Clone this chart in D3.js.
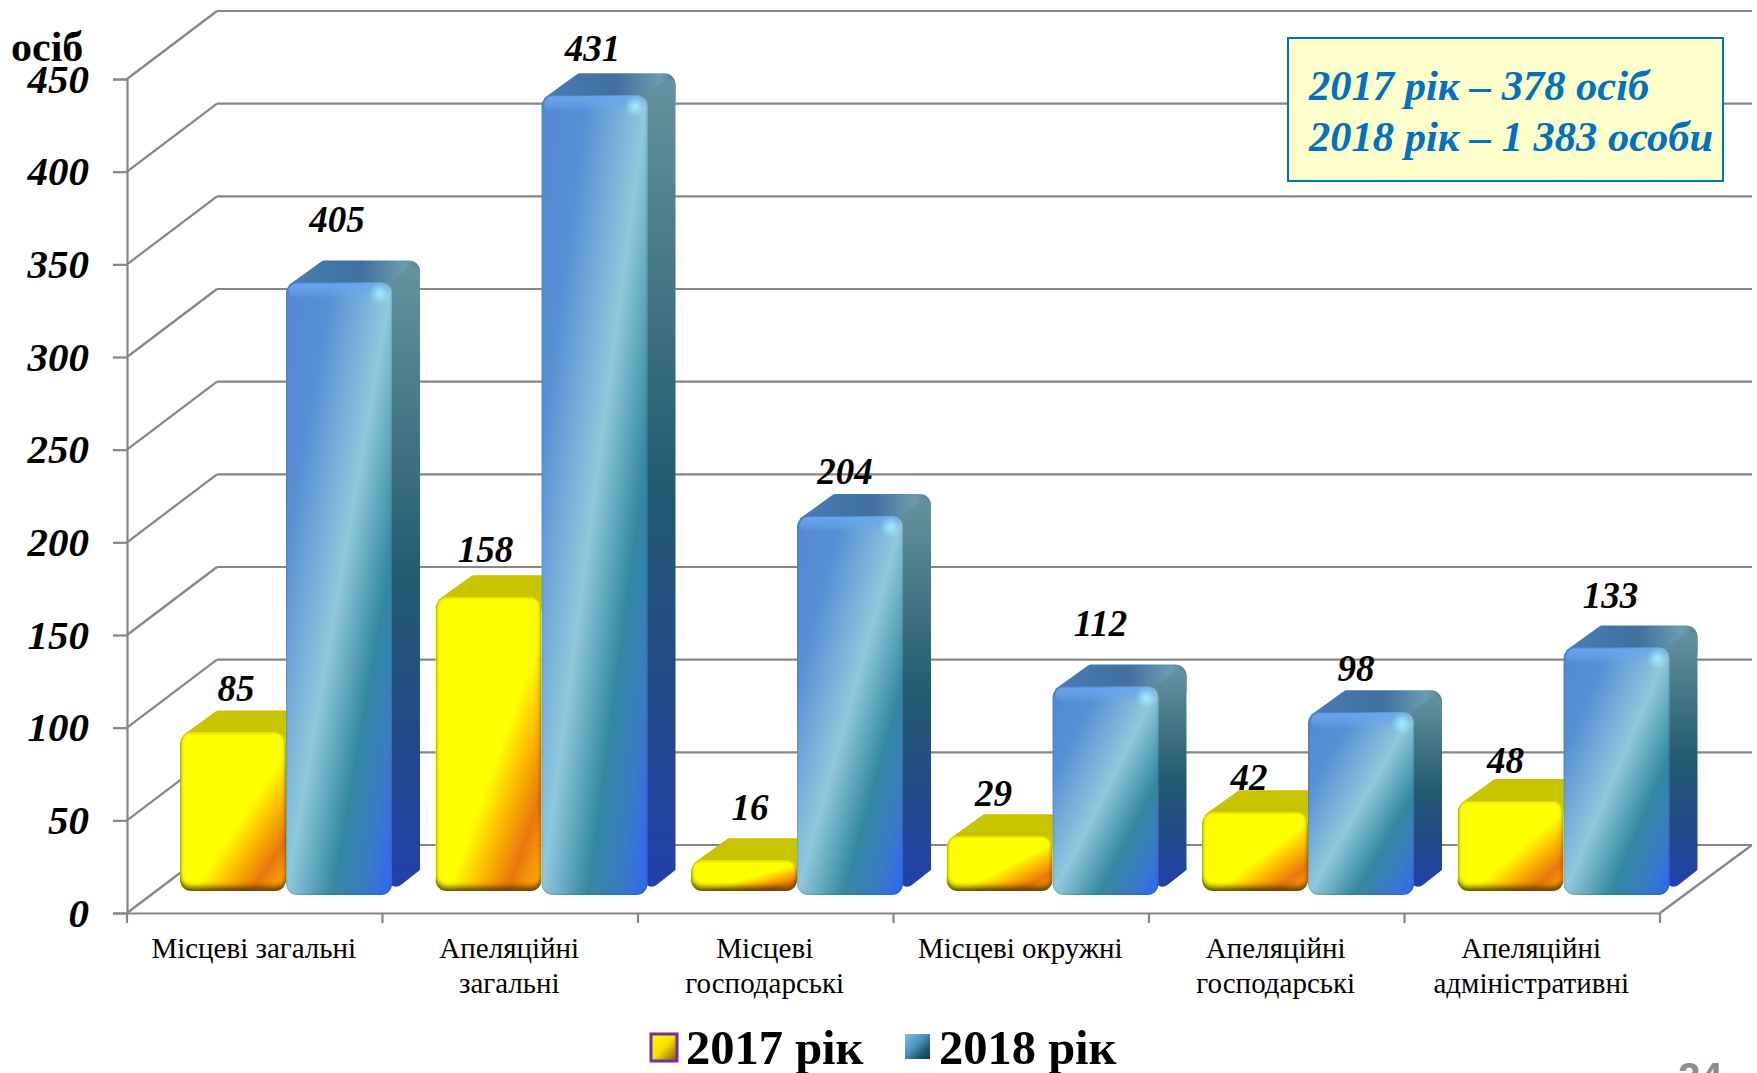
<!DOCTYPE html>
<html><head><meta charset="utf-8">
<script src="https://cdn.jsdelivr.net/npm/d3@7"></script>
<style>html,body{margin:0;padding:0;background:#fff;overflow:hidden}svg{display:block}text{font-family:"Liberation Serif",serif}</style>
</head><body><svg id="c" width="1757" height="1073"></svg>
<script>
const categories = ["Місцеві загальні","Апеляційні загальні","Місцеві господарські","Місцеві окружні","Апеляційні господарські","Апеляційні адміністративні"];
const categoryLines = [["Місцеві загальні"],["Апеляційні","загальні"],["Місцеві","господарські"],["Місцеві окружні"],["Апеляційні","господарські"],["Апеляційні","адміністративні"]];
const seriesNames = ["2017 рік","2018 рік"];
const values2017 = [85,158,16,29,42,48];
const labels2018 = [405,431,204,112,98,133];
// the first 2018 column is drawn shorter than its printed label in the reference
const drawn2018 = [330,431,204,112,98,133];
const yTicks = [0,50,100,150,200,250,300,350,400,450];
const summaryLines = ["2017 рік – 378 осіб","2018 рік – 1 383 особи"];
// per-label placement relative to the column (layout only)
const lift2017 = [9,13,18,8,0,6];
const lift2018 = [28,12,10,28,9,18];
const shift2017 = [3,-3,6,-6,-6,-5];
const shift2018 = [-2,-2,-5,-5,-5,-6];

const svg = d3.select("#c");
const defs = svg.append("defs");
function grad(id,x1,y1,x2,y2,stops){
  const g=defs.append("linearGradient").attr("id",id).attr("x1",x1).attr("y1",y1).attr("x2",x2).attr("y2",y2);
  stops.forEach(s=>g.append("stop").attr("offset",s[0]).attr("stop-color",s[1]).attr("stop-opacity",s[2]===undefined?1:s[2]));
}
grad("yFront",0,0,1,1,[[0,"#ffff00"],[.56,"#ffff00"],[.7,"#fbb800"],[.84,"#ea760c"],[.95,"#fda204"],[1,"#ffb000"]]);
grad("bFront",0,0,1,1,[[0,"#5488d2"],[.22,"#5790d4"],[.5,"#90c8dc"],[.72,"#33889f"],[.86,"#3a7cc4"],[1,"#2f66f4"]]);
grad("bSide",0,0,0,1,[[0,"#65929e"],[.5,"#245a72"],[.75,"#234a86"],[1,"#2240ac"]]);
grad("bTop",0,0,1,0,[[0,"#4a7cb4"],[.55,"#41709f"],[.88,"#6a9cb0"],[1,"#55808f"]]);
grad("ySwatch",0,0,1,1,[[0,"#ffff00"],[.5,"#f5e000"],[.85,"#a87a00"],[1,"#6b5a00"]]);
grad("bSwatch",0,0,1,1,[[0,"#7cc0e8"],[.45,"#4a90b8"],[.75,"#1d5570"],[1,"#163a5a"]]);
grad("bShine",0,0,0,1,[[0,"#6aa6ee",.95],[.6,"#6aa6ee",.55],[1,"#6aa6ee",0]]);
const spot=defs.append("radialGradient").attr("id","bSpot");
spot.append("stop").attr("offset",0).attr("stop-color","#a8f0fa").attr("stop-opacity",.95);
spot.append("stop").attr("offset",1).attr("stop-color","#a8f0fa").attr("stop-opacity",0);

function bevel(id,botCol,botOp,edgeCol,edgeOp,edgeStd){
  const f=defs.append("filter").attr("id",id).attr("x","-10%").attr("y","-10%").attr("width","120%").attr("height","120%");
  const inner=(dx,dy,std,col,op,res)=>{
    f.append("feOffset").attr("in","SourceAlpha").attr("dx",dx).attr("dy",dy).attr("result",res+"o");
    f.append("feGaussianBlur").attr("in",res+"o").attr("stdDeviation",std).attr("result",res+"b");
    f.append("feComposite").attr("in","SourceAlpha").attr("in2",res+"b").attr("operator","arithmetic")
      .attr("k1",0).attr("k2",1).attr("k3",-1).attr("k4",0).attr("result",res+"e");
    f.append("feFlood").attr("flood-color",col).attr("flood-opacity",op).attr("result",res+"f");
    f.append("feComposite").attr("in",res+"f").attr("in2",res+"e").attr("operator","in").attr("result",res);
  };
  inner(0,-5,2.5,botCol,botOp,"d");
  inner(0,0,edgeStd,edgeCol,edgeOp,"e");
  const m=f.append("feMerge");
  ["SourceGraphic","d","e"].forEach(n=>m.append("feMergeNode").attr("in",n));
}
bevel("yBevel","#5a3a00",.95,"#6a6000",.85,1.6);
bevel("bBevel","#2a60a0",0,"#2c4a68",.75,1.1);

const GRID="#868686";
const y = d3.scaleLinear().domain([0,450]).range([913,79]);
const x = d3.scaleBand().domain(categories).range([127,1660]);
const inner = d3.scaleBand().domain(seriesNames).range([53,265]);
const wallDx=90, wallDy=68, barDx=28, barDy=22, blueLift=19, yellowLift=23;

// walls
const wall=svg.append("g").attr("fill","none").attr("stroke",GRID).attr("stroke-width",2.2);
wall.selectAll(".h").data(yTicks).join("line")
  .attr("x1",127+wallDx).attr("x2",1752).attr("y1",d=>y(d)-wallDy).attr("y2",d=>y(d)-wallDy);
wall.selectAll(".d").data(yTicks).join("line")
  .attr("x1",127).attr("x2",127+wallDx).attr("y1",d=>y(d)).attr("y2",d=>y(d)-wallDy);
wall.append("line").attr("x1",1660).attr("y1",y(0)).attr("x2",1752).attr("y2",y(0)-wallDy);

// axes
const axL=svg.append("g").attr("transform","translate(127,0)")
  .call(d3.axisLeft(y).tickValues(yTicks).tickSize(14).tickPadding(24));
axL.select(".domain").attr("stroke",GRID).attr("stroke-width",2.2);
axL.selectAll("line").attr("stroke",GRID).attr("stroke-width",2.2);
axL.selectAll("text").attr("fill","#000").style("font-family",'"Liberation Serif",serif')
  .style("font-size","41px").style("font-weight","bold").style("font-style","italic").attr("dy","0.32em");

const axB=svg.append("g").attr("transform",`translate(0,${y(0)})`)
  .call(d3.axisBottom(x).tickSize(0).tickPadding(0));
axB.select(".domain").attr("stroke",GRID).attr("stroke-width",2.2);
axB.selectAll("text").each(function(d,i){
  const t=d3.select(this).text(null).attr("y",null).attr("dy",null).attr("x",-1).attr("fill","#000")
    .style("font-family",'"Liberation Serif",serif').style("font-size","29px");
  categoryLines[i].forEach((l,j)=>t.append("tspan").attr("x",-1).attr("y",45+j*35).text(l));
});
const boundaries=categories.map(c=>x(c)).concat([x.range()[1]]);
svg.append("g").selectAll("line").data(boundaries).join("line")
  .attr("x1",d=>d).attr("x2",d=>d).attr("y1",y(0)).attr("y2",y(0)+10)
  .attr("stroke",GRID).attr("stroke-width",2.2);

// rounded polygon helper: each vertex is [x, y, radius]
function rpoly(pts){
  const p=d3.path(),n=pts.length;
  const s=[(pts[n-1][0]+pts[0][0])/2,(pts[n-1][1]+pts[0][1])/2];
  p.moveTo(s[0],s[1]);
  pts.forEach((q,i)=>{const nx=pts[(i+1)%n];p.arcTo(q[0],q[1],nx[0],nx[1],q[2]);});
  p.closePath();
  return p.toString();
}
function column(g,cat,name,value,lift,frontFill,topFill,sideFill,bevelId,shiny){
  const x0=x(cat)+inner(name), w=inner.bandwidth(), x1=x0+w, top=y(value)-lift, base=y(0)-lift+1;
  g.append("path").attr("fill",topFill)
    .attr("d",rpoly([[x0+1,top+4,1],[x0+37,top-barDy,6],[x1+barDx,top-barDy,11],[x1+barDx,top+6,1],[x1,top+14,1]]));
  if(sideFill) g.append("path").attr("fill",sideFill)
    .attr("d",rpoly([[x1-4,top+1,1],[x1+barDx-8,top-barDy+5,3],[x1+barDx,top-barDy+8,5],[x1+barDx,base-barDy-3,1],[x1-4,base,8]]));
  g.append("rect").attr("x",x0).attr("y",top).attr("width",w).attr("height",base-top)
    .attr("rx",Math.min(11,(base-top)/2)).attr("fill",frontFill).attr("filter",`url(#${bevelId})`);
  if(shiny){
    g.append("rect").attr("x",x0+3).attr("y",top+1).attr("width",w-6).attr("height",15).attr("rx",8).attr("fill","url(#bShine)");
    g.append("circle").attr("cx",x1-12).attr("cy",top+11).attr("r",11).attr("fill","url(#bSpot)");
  }
}
const bars=svg.append("g");
categories.forEach((c,i)=>{
  const g=bars.append("g");
  column(g,c,seriesNames[0],values2017[i],yellowLift,"url(#yFront)","#c8c400",null,"yBevel",false);
  column(g,c,seriesNames[1],drawn2018[i],blueLift,"url(#bFront)","url(#bTop)","url(#bSide)","bBevel",true);
});

// data labels
const labelStyle=s=>s.attr("text-anchor","middle").attr("fill","#000")
  .style("font-size","37px").style("font-weight","bold").style("font-style","italic");
const lab=svg.append("g");
lab.selectAll(".a").data(values2017).join("text").call(labelStyle)
  .attr("x",(d,i)=>x(categories[i])+inner(seriesNames[0])+inner.bandwidth()/2+shift2017[i])
  .attr("y",(d,i)=>y(d)-yellowLift-barDy-lift2017[i]).text(d=>d);
lab.selectAll(".b").data(labels2018).join("text").call(labelStyle)
  .attr("x",(d,i)=>x(categories[i])+inner(seriesNames[1])+inner.bandwidth()/2+shift2018[i])
  .attr("y",(d,i)=>y(drawn2018[i])-blueLift-barDy-lift2018[i]).text(d=>d);

// unit
svg.append("text").attr("x",11).attr("y",61).attr("fill","#000")
  .style("font-size","42px").style("font-weight","bold").text("осіб");

// summary box
svg.append("rect").attr("x",1288).attr("y",38).attr("width",435).attr("height",143)
  .attr("fill","#ffffcc").attr("stroke","#0070c0").attr("stroke-width",2);
svg.append("g").selectAll("text").data(summaryLines).join("text")
  .attr("x",1309).attr("y",(d,i)=>100+i*51).attr("fill","#0070c0")
  .style("font-size","42.5px").style("font-weight","bold").style("font-style","italic").text(d=>d);

// legend
const lg=svg.append("g");
lg.append("rect").attr("x",651).attr("y",1034).attr("width",26).attr("height",27)
  .attr("fill","url(#ySwatch)").attr("stroke","#7030a0").attr("stroke-width",3);
lg.append("rect").attr("x",905).attr("y",1034).attr("width",25).attr("height",25).attr("fill","url(#bSwatch)");
lg.selectAll("text").data(seriesNames).join("text")
  .attr("x",(d,i)=>[686,939][i]).attr("y",1064).attr("fill","#000")
  .style("font-size","48.5px").style("font-weight","bold").text(d=>d);

// page number
svg.append("text").attr("x",1678).attr("y",1091).attr("fill","#8c8c8c")
  .style("font-family",'"Liberation Sans",sans-serif').style("font-size","40px").style("font-weight","bold").text("24");
</script></body></html>
